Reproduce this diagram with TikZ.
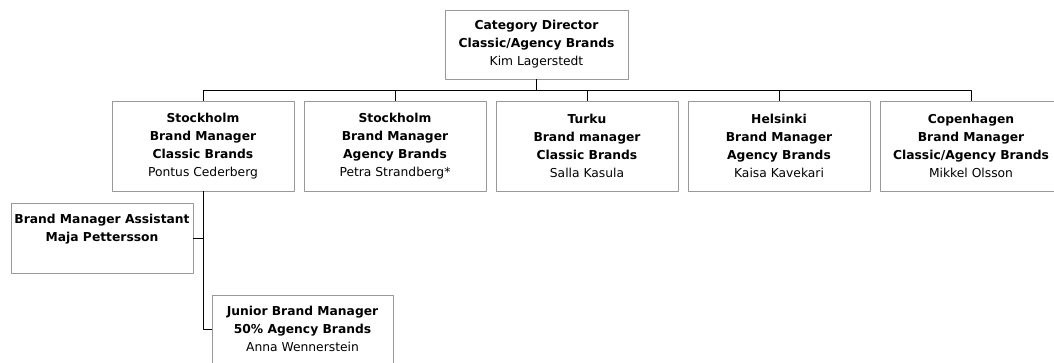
\documentclass[tikz,border=0pt]{standalone}
\usepackage{fontspec}
\setmainfont{DejaVu Sans}
\usetikzlibrary{positioning}
\tikzset{
    unit/.style={draw=black!40, line width=0.8pt, minimum width=182pt, minimum height=90pt,
        align=center, inner sep=0pt, font=\fontsize{12.3}{18}\selectfont},
    link/.style={draw=black, line width=0.9pt}
}
\begin{document}
\begin{tikzpicture}[x=1pt, y=-1pt, line join=round]
            \useasboundingbox (0,0) rectangle (1054,363);
            \node[unit, minimum width=183pt, minimum height=69pt] (cat) at (536.5,44.5)
                {\textbf{Category Director}\\\textbf{Classic/Agency Brands}\\Kim Lagerstedt};
            \foreach \i/\t/\n [count=\k from 0] in {
                stoA/{\textbf{Stockholm}\\\textbf{Brand Manager}\\\textbf{Classic Brands}}/Pontus Cederberg,
                stoB/{\textbf{Stockholm}\\\textbf{Brand Manager}\\\textbf{Agency Brands}}/Petra Strandberg*,
                tur/{\textbf{Turku}\\\textbf{Brand manager}\\\textbf{Classic Brands}}/Salla Kasula,
                hel/{\textbf{Helsinki}\\\textbf{Brand Manager}\\\textbf{Agency Brands}}/Kaisa Kavekari,
                cph/{\textbf{Copenhagen}\\\textbf{Brand Manager}\\\textbf{Classic/Agency Brands}}/Mikkel Olsson}{
                \node[unit] (\i) at (203+192*\k,146) {\t\\\n};
                \draw[link] (cat.south) -- ++(0,11) -| (\i.north);
            }
            \node[unit, minimum height=70pt] (asst) at (102,238)
                {\textbf{Brand Manager Assistant}\\\textbf{Maja Pettersson}\\[2pt]\mbox{}};
            \node[unit, minimum width=181pt, minimum height=68pt] (jun) at (302.5,329)
                {\textbf{Junior Brand Manager}\\\textbf{50\% Agency Brands}\\Anna Wennerstein};
            \draw[link] (stoA.south) |- (asst.east);
            \draw[link] (stoA.south) |- (jun.west);
        \end{tikzpicture}
\end{document}
